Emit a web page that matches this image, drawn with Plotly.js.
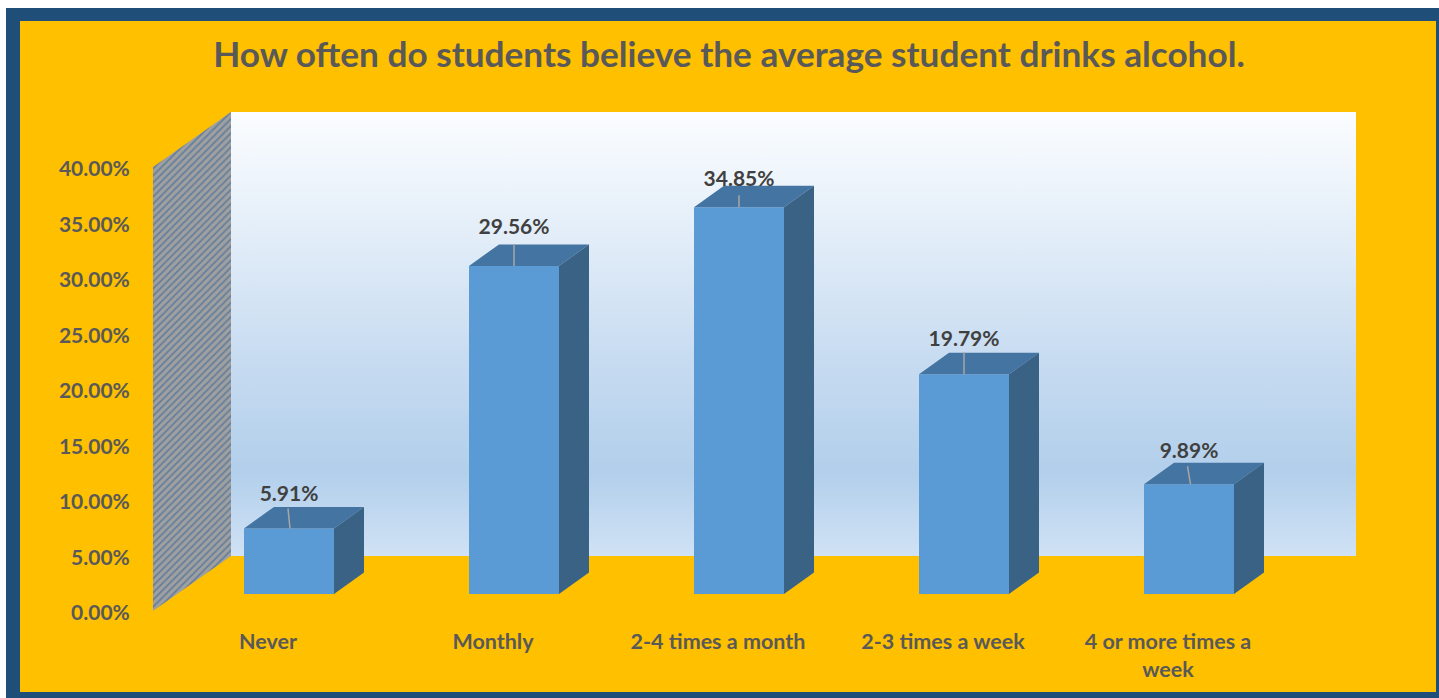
<!DOCTYPE html>
<html><head><meta charset="utf-8">
<script src="https://cdn.plot.ly/plotly-3.0.1.min.js"></script>
<style>
html,body{margin:0;padding:0;background:#fff;overflow:hidden}
#frame{position:absolute;left:6px;top:8px;width:1433px;height:690px;background:#1F4E79}
#chart{position:absolute;left:14px;top:13px;width:1416px;height:671px}
</style></head><body>
<div id="frame"><div id="chart"></div></div>
<script>
// data
const categories = ["Never","Monthly","2-4 times a month","2-3 times a week","4 or more times a<br>week"];
const values = [5.91,29.56,34.85,19.79,9.89];
const axisTicks = [0,5,10,15,20,25,30,35,40];
const axisLabels = ["0.00%","5.00%","10.00%","15.00%","20.00%","25.00%","30.00%","35.00%","40.00%"];

// 3-D look, in axis units (225 px per category, 11.1 px per percent)
const pxX = 225, pxY = 11.1;
const barOffset = 21/pxX, barWidth = 90/pxX, barDepthX = 30/pxX, barDepthY = 21.5/pxY, floorLift = 17/pxY;
const wallDepthY = 55/pxY, wallLeft = -115/pxX, wallBack = -37/pxX, wallRight = 1088/pxX, yMax = 499/pxY;
const labelLift = [33,37,26,34,31].map(v=>v/pxY);
const leaderLen = [20,22,12,22,18].map(v=>v/pxY);
const leaderTilt = [2,0,0,0,3].map(v=>v/pxX);

const idx = categories.map((_,i)=>i);
const centers = idx.map(i=>i+barOffset);
const tops = values.map(v=>v+floorLift);

const topX=[],topY=[],sideX=[],sideY=[],leadX=[],leadY=[];
idx.forEach(i=>{
  const l=centers[i]-barWidth/2, r=centers[i]+barWidth/2, t=tops[i];
  topX.push(l,r,r+barDepthX,l+barDepthX,l,null);
  topY.push(t,t,t+barDepthY,t+barDepthY,t,null);
  sideX.push(r,r+barDepthX,r+barDepthX,r,r,null);
  sideY.push(floorLift,floorLift+barDepthY,t+barDepthY,t,floorLift,null);
  leadX.push(centers[i]+leaderTilt[i]*0.5,centers[i]-leaderTilt[i]*0.5,null);
  leadY.push(t,t+leaderLen[i],null);
});

const font = "Lato, 'Open Sans', sans-serif";
const traces = [
 {type:'scatter',mode:'lines',x:[wallBack,wallRight,wallRight,wallBack,wallBack],y:[wallDepthY,wallDepthY,yMax,yMax,wallDepthY],
  fill:'toself',line:{width:0},hoverinfo:'skip',showlegend:false,
  fillgradient:{type:'vertical',colorscale:[[0,'#D0E2F5'],[0.19,'#B2CFEB'],[0.45,'#C8DCF1'],[0.75,'#E5EFF9'],[1,'#FBFDFF']]}},
 {type:'scatter',mode:'lines',x:[wallLeft,wallBack,wallBack,wallLeft,wallLeft],y:[0,wallDepthY,yMax,40,0],
  fill:'toself',line:{width:0},hoverinfo:'skip',showlegend:false,fillcolor:'#A0A0A0',
  fillpattern:{shape:'/',bgcolor:'#A0A0A0',fgcolor:'#66809C',size:5,solidity:0.35}},
 {type:'bar',x:centers,y:values,base:floorLift,width:barWidth,xaxis:'x2',yaxis:'y2',
  marker:{color:'#5B9BD5',line:{width:0}},hoverinfo:'skip',showlegend:false},
 {type:'scatter',mode:'lines',x:topX,y:topY,xaxis:'x2',yaxis:'y2',fill:'toself',fillcolor:'#4474A2',line:{width:0},hoverinfo:'skip',showlegend:false},
 {type:'scatter',mode:'lines',x:sideX,y:sideY,xaxis:'x2',yaxis:'y2',fill:'toself',fillcolor:'#396285',line:{width:0},hoverinfo:'skip',showlegend:false},
 {type:'scatter',mode:'lines',x:leadX,y:leadY,xaxis:'x2',yaxis:'y2',line:{color:'#A6A6A6',width:1.5},hoverinfo:'skip',showlegend:false},
 {type:'scatter',mode:'text',x:centers,y:tops.map((t,i)=>t+labelLift[i]),xaxis:'x2',yaxis:'y2',
  text:values.map(v=>v.toFixed(2)+'%'),textposition:'middle center',cliponaxis:false,
  textfont:{family:font,size:21,color:'#404040',weight:700},hoverinfo:'skip',showlegend:false}
];
const xr=[-115/pxX,1088/pxX], yr=[0,yMax];
const layout = {
  width:1416,height:671,paper_bgcolor:'#FFC000',plot_bgcolor:'rgba(0,0,0,0)',
  margin:{l:133,r:80,t:91,b:81,pad:0},showlegend:false,
  title:{text:'How often do students believe the average student drinks alcohol.',x:0.4788,xanchor:'center',xref:'paper',y:0.95,yanchor:'middle',yref:'container',
         font:{family:font,size:35.2,color:'#595959',weight:700}},
  xaxis:{type:'linear',range:xr,tickmode:'array',tickvals:idx,ticktext:categories,ticks:'outside',ticklen:11,tickcolor:'rgba(0,0,0,0)',
         showgrid:false,zeroline:false,showline:false,tickangle:0,fixedrange:true,
         tickfont:{family:font,size:21.5,color:'#595959',weight:700}},
  yaxis:{type:'linear',range:yr,tickmode:'array',tickvals:axisTicks,ticktext:axisLabels,ticks:'outside',ticklen:18,tickcolor:'rgba(0,0,0,0)',
         showgrid:false,zeroline:false,showline:false,fixedrange:true,ticklabelshift:2,
         tickfont:{family:font,size:21,color:'#595959',weight:700}},
  xaxis2:{type:'linear',range:xr,overlaying:'x',visible:false,fixedrange:true},
  yaxis2:{type:'linear',range:yr,overlaying:'y',visible:false,fixedrange:true}
};
Plotly.newPlot('chart',traces,layout,{displayModeBar:false,staticPlot:true});
</script></body></html>
